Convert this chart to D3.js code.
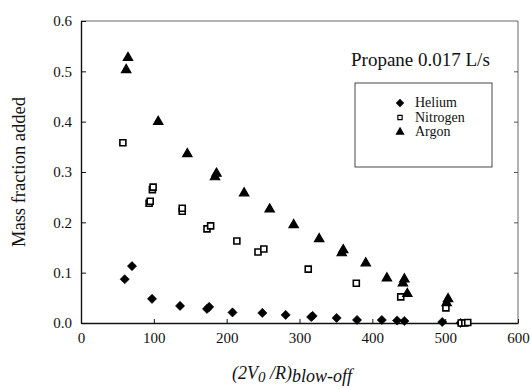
<!DOCTYPE html>
<html><head><meta charset="utf-8">
<script src="https://cdn.jsdelivr.net/npm/d3@7"></script>
<style>body{margin:0;background:#fff}svg{display:block}svg text{font-family:"Liberation Serif","Times New Roman","DejaVu Serif",serif !important;fill:#111}</style>
</head><body>
<svg id="c" width="531" height="389"></svg>
<script>
const xTicks = [0, 100, 200, 300, 400, 500, 600];
const yTicks = [0.0, 0.1, 0.2, 0.3, 0.4, 0.5, 0.6];
const seriesNames = ["Helium", "Nitrogen", "Argon"];
const heliumX = [60, 70, 97.5, 136, 173, 176, 208, 249, 281, 316, 318, 351, 379, 413, 434, 444, 496, 521];
const heliumY = [0.087, 0.113, 0.048, 0.034, 0.028, 0.032, 0.021, 0.020, 0.016, 0.012, 0.014, 0.010, 0.006, 0.006, 0.005, 0.004, 0.002, 0.0];
const nitrogenX = [57.5, 93.5, 95, 98, 99, 139, 139, 173, 178, 214, 243, 251, 312, 378, 439, 501, 522, 527, 531];
const nitrogenY = [0.358, 0.238, 0.242, 0.265, 0.270, 0.222, 0.228, 0.187, 0.193, 0.163, 0.141, 0.147, 0.107, 0.079, 0.052, 0.030, 0.0, 0.0, 0.001];
const argonX = [62, 64.5, 106, 146, 184, 186, 224, 259, 292, 327, 358, 360, 391, 420, 442, 444, 448, 502, 504];
const argonY = [0.503, 0.527, 0.400, 0.336, 0.290, 0.297, 0.258, 0.226, 0.195, 0.167, 0.139, 0.145, 0.119, 0.089, 0.079, 0.087, 0.058, 0.040, 0.048];

const svg = d3.select("#c").attr("font-family", "Liberation Serif, serif");
const L = 81, R = 518, T = 21, B = 323;
const x = d3.scaleLinear().domain([0, 600]).range([L, R]);
const y = d3.scaleLinear().domain([0, 0.6]).range([B, T]);

// frame (top/right lighter)
svg.append("line").attr("x1", L).attr("x2", R).attr("y1", T).attr("y2", T).attr("stroke", "#555").attr("stroke-width", 0.9);
svg.append("line").attr("x1", R).attr("x2", R).attr("y1", T).attr("y2", B).attr("stroke", "#555").attr("stroke-width", 0.9);

const xAxis = svg.append("g").attr("transform", `translate(0,${B})`)
  .call(d3.axisBottom(x).tickValues(xTicks).tickFormat(d3.format("d")).tickSizeInner(-4).tickSizeOuter(0).tickPadding(9));
const yAxis = svg.append("g").attr("transform", `translate(${L},0)`)
  .call(d3.axisLeft(y).tickValues(yTicks).tickFormat(d3.format(".1f")).tickSizeInner(-5).tickSizeOuter(0).tickPadding(9));
svg.append("g").attr("transform", `translate(${R},0)`)
  .call(d3.axisRight(y).tickValues(yTicks.slice(1, 6)).tickFormat("").tickSizeInner(-4).tickSizeOuter(0))
  .call(g => g.select(".domain").remove())
  .selectAll("line").attr("stroke", "#555");
[xAxis, yAxis].forEach(g => {
  g.attr("font-family", "Liberation Serif, serif");
  g.select(".domain").attr("stroke", "#111").attr("stroke-width", 1.4);
  g.selectAll(".tick line").attr("stroke", "#111");
  g.selectAll("text").style("font-size", "15px").attr("fill", "#111");
});

const sym = {
  Helium: d3.symbol().type(d3.symbolSquare).size(42),
  Nitrogen: d3.symbol().type(d3.symbolSquare).size(36),
  Argon: d3.symbol().type(d3.symbolTriangle).size(38)
};
function styleMark(sel, name) {
  if (name === "Helium") sel.attr("fill", "#000").attr("stroke", "#000").attr("stroke-width", 0.6);
  else if (name === "Nitrogen") sel.attr("fill", "#fff").attr("stroke", "#000").attr("stroke-width", 1.6);
  else sel.attr("fill", "#000").attr("stroke", "#000").attr("stroke-width", 1.2);
}
const rot = name => name === "Helium" ? " rotate(45)" : "";
const data = {
  Helium: heliumX.map((v, i) => [v, heliumY[i]]),
  Nitrogen: nitrogenX.map((v, i) => [v, nitrogenY[i]]),
  Argon: argonX.map((v, i) => [v, argonY[i]])
};
seriesNames.forEach(name => {
  svg.append("g").selectAll("path").data(data[name]).join("path")
    .attr("d", sym[name]())
    .attr("transform", d => `translate(${x(d[0])},${y(d[1])})${rot(name)}`)
    .call(styleMark, name);
});

// title
svg.append("text").attr("x", 351).attr("y", 66).style("font-size", "19px").text("Propane 0.017 L/s");

// legend
svg.append("rect").attr("x", 355).attr("y", 83).attr("width", 137).attr("height", 84)
  .attr("fill", "none").attr("stroke", "#333").attr("stroke-width", 0.9);
const ly = d3.scalePoint().domain(seriesNames).range([102, 131]);
seriesNames.forEach(name => {
  svg.append("path").attr("d", d3.symbol().type(sym[name].type()).size(name === "Nitrogen" ? 18 : 22)())
    .attr("transform", `translate(400,${ly(name) + 1})${rot(name)}`).call(styleMark, name).attr("stroke-width", 1.2);
  svg.append("text").attr("x", 415).attr("y", ly(name) + 5).style("font-size", "14px").text(name);
});

// y label
svg.append("text").attr("transform", `translate(25,${(T + B) / 2}) rotate(-90)`).attr("text-anchor", "middle")
  .style("font-size", "18.5px").text("Mass fraction added");

// x label
const xl = svg.append("text").attr("x", 232).attr("y", 379).style("font-style", "italic").style("font-size", "18px");
xl.append("tspan").text("(2V");
xl.append("tspan").attr("dy", 3).style("font-size", "15px").text("0");
xl.append("tspan").attr("dy", -3).text(" /R)");
xl.append("tspan").attr("dy", 3).text("blow-off");
</script>
</body></html>
